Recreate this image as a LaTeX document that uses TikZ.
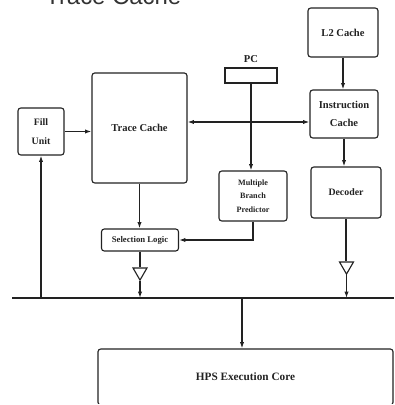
\documentclass[tikz,border=0pt]{standalone}
\usepackage{fontspec}
\setmainfont{Liberation Serif}
\newfontfamily\headfont{Liberation Sans}
\usetikzlibrary{positioning, shapes.geometric, arrows.meta, calc}
\definecolor{tcink}{HTML}{222222}
\definecolor{tctitle}{HTML}{333333}

\begin{document}
\begin{tikzpicture}[x=0.025cm, y=-0.025cm, font=\bfseries\fontsize{7.5}{8.5}\selectfont,
    block/.style={draw=tcink, line width=0.8pt, rounded corners=2pt, align=center, inner sep=1pt, text=tcink},
    buffer/.style={draw=tcink, line width=0.8pt, regular polygon, regular polygon sides=3, shape border rotate=180, minimum size=0.404cm, inner sep=0pt},
    wire/.style={tcink, line width=0.8pt},
    feed/.style={wire, -{Latex[length=4.5pt, width=3pt]}}]
        \useasboundingbox (0,0) rectangle (394,405);
        \clip (0,0) rectangle (394,403);
        % title, cut off at the top edge
        \node[anchor=base west, inner sep=0pt, font=\headfont\fontsize{17}{17}\selectfont, text=tctitle] (title) at (45,5) {Trace Cache};
        % boxes
        \node[block, minimum width=1.75cm, minimum height=1.225cm] (l2) at (343,32.5) {L2 Cache};
        \node[block, rounded corners=0pt, minimum width=1.3cm, minimum height=0.375cm,
          label={[font=\bfseries\fontsize{7.5}{8.5}\selectfont, text=tcink]above:PC}] (pc) at (251,75.5) {};
        \node[block, minimum width=2.375cm, minimum height=2.75cm] (trace) at (139.5,128) {Trace Cache};
        \node[block, minimum width=1.7cm, minimum height=1.2cm] (ic) at (344,114) {Instruction\\[4pt]Cache};
        \node[block, minimum width=1.15cm, minimum height=1.175cm, font=\bfseries\fontsize{7}{8}\selectfont] (fill) at (41,131.5) {Fill\\[5pt]Unit};
        \node[block, minimum width=1.7cm, minimum height=1.25cm, font=\bfseries\fontsize{5.8}{9.6}\selectfont] (mbp) at (253,196) {Multiple\\Branch\\Predictor};
        \node[block, minimum width=1.75cm, minimum height=1.275cm, font=\bfseries\fontsize{7}{8}\selectfont] (dec) at (346,192.5) {Decoder};
        \node[block, minimum width=1.925cm, minimum height=0.55cm, font=\bfseries\fontsize{6.2}{7}\selectfont] (sel) at (140,240) {Selection Logic};
        \node[block, minimum width=7.375cm, minimum height=1.4cm, font=\bfseries\fontsize{8}{9}\selectfont] (core) at (245.5,377) {HPS Execution Core};
        % buffers
        \node[buffer] (bufL) at (140,272) {};
        \node[buffer] (bufR) at (346.5,266) {};
        % bus
        \coordinate (busL) at (12,298);
        \coordinate (busR) at (394,298);
        \coordinate (tap) at (242,298);
        \coordinate (link) at (0,122);
        \draw[wire] (busL) -- (busR);
        % connectors
        \draw[feed] (l2.south) -- (l2.south |- ic.north);
        \draw[feed] (ic.south) -- (ic.south |- dec.north);
        \draw[wire] (dec.south) -- (dec.south |- bufR.north);
        \draw[feed] (bufR.south) -- (bufR.south |- busR);
        \draw[feed] (fill.east) -- (fill.east -| trace.west);
        \draw[wire, {Latex[length=4.5pt, width=3pt]}-{Latex[length=4.5pt, width=3pt]}] (trace.east |- link) -- (ic.west |- link);
        \draw[feed] (pc.south) -- (pc.south |- mbp.north);
        \draw[feed] (trace.south) -- (trace.south |- sel.north);
        \draw[feed] (mbp.south) |- (sel.east);
        \draw[wire] (sel.south) -- (sel.south |- bufL.north);
        \draw[feed] (bufL.south) -- (bufL.south |- busL);
        \draw[feed] (fill.south |- busL) -- (fill.south);
        \draw[feed] (tap) -- (tap |- core.north);
      \end{tikzpicture}
\end{document}
